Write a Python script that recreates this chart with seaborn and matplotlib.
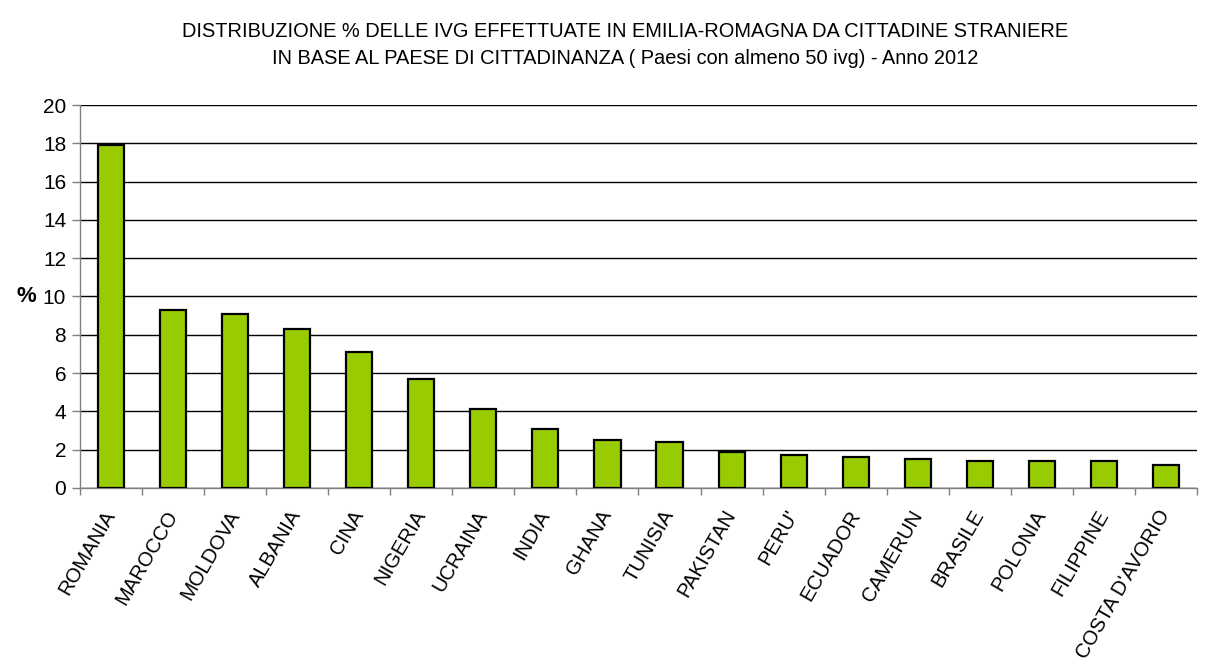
import matplotlib
matplotlib.use("Agg")
import matplotlib.pyplot as plt
import seaborn as sns
import numpy as np
import pandas as pd

paesi = ["ROMANIA", "MAROCCO", "MOLDOVA", "ALBANIA", "CINA", "NIGERIA", "UCRAINA",
         "INDIA", "GHANA", "TUNISIA", "PAKISTAN", "PERU'", "ECUADOR", "CAMERUN",
         "BRASILE", "POLONIA", "FILIPPINE", "COSTA D'AVORIO"]
percentuali = [17.9, 9.3, 9.1, 8.3, 7.1, 5.7, 4.1, 3.1, 2.5, 2.4, 1.9, 1.7, 1.6,
               1.5, 1.4, 1.4, 1.4, 1.2]
y_ticks = [0, 2, 4, 6, 8, 10, 12, 14, 16, 18, 20]

sns.set_theme(style="white")
plt.rcParams["font.family"] = ["Liberation Sans", "DejaVu Sans"]
plt.rcParams["text.color"] = "black"
plt.rcParams["xtick.color"] = "black"
plt.rcParams["ytick.color"] = "black"
plt.rcParams["axes.labelcolor"] = "black"

df = pd.DataFrame({"paese": paesi, "perc": percentuali})

fig = plt.figure(figsize=(12.11, 6.68), dpi=100)
ax = fig.add_axes([0.0661, 0.2695, 0.9223, 0.5733])

sns.barplot(data=df, x="paese", y="perc", color="#99CC00", saturation=1,
            edgecolor="black", linewidth=1.6, width=0.42, ax=ax, zorder=3)

ax.set_ylim(0, 20)
ax.set_xlim(-0.5, len(paesi) - 0.5)
ax.set_yticks(y_ticks)
ax.set_yticklabels([str(v) for v in y_ticks], fontsize=15)
ax.yaxis.grid(True, color="black", linewidth=1.0, zorder=0)
ax.xaxis.grid(False)

ax.set_xticks(range(len(paesi)))
ax.set_xticklabels(paesi, rotation=60, ha="right", va="center",
                   rotation_mode="anchor", fontsize=14.6)
ax.tick_params(axis="x", which="major", length=0, pad=17)
ax.set_xticks(np.arange(-0.5, len(paesi), 1.0), minor=True)
ax.tick_params(axis="x", which="minor", length=5, width=1, color="#808080", direction="out", bottom=True)
ax.tick_params(axis="y", length=6, width=1, color="#808080", labelcolor="black",
               direction="out", left=True, pad=4)

for side in ["top", "right"]:
    ax.spines[side].set_visible(False)
for side in ["left", "bottom"]:
    ax.spines[side].set_color("#808080")
    ax.spines[side].set_linewidth(1.0)

ax.set_xlabel("")
ax.set_ylabel("%", fontsize=16, fontweight="bold", rotation=0, labelpad=12, va="center")

fig.text(0.516, 0.953, "DISTRIBUZIONE % DELLE IVG EFFETTUATE IN EMILIA-ROMAGNA DA CITTADINE STRANIERE",
         ha="center", va="center", fontsize=14.4)
fig.text(0.516, 0.912, "IN BASE AL PAESE DI CITTADINANZA ( Paesi con almeno 50 ivg) - Anno 2012",
         ha="center", va="center", fontsize=14.4)

fig.savefig("out.png", dpi=100, facecolor="white")
